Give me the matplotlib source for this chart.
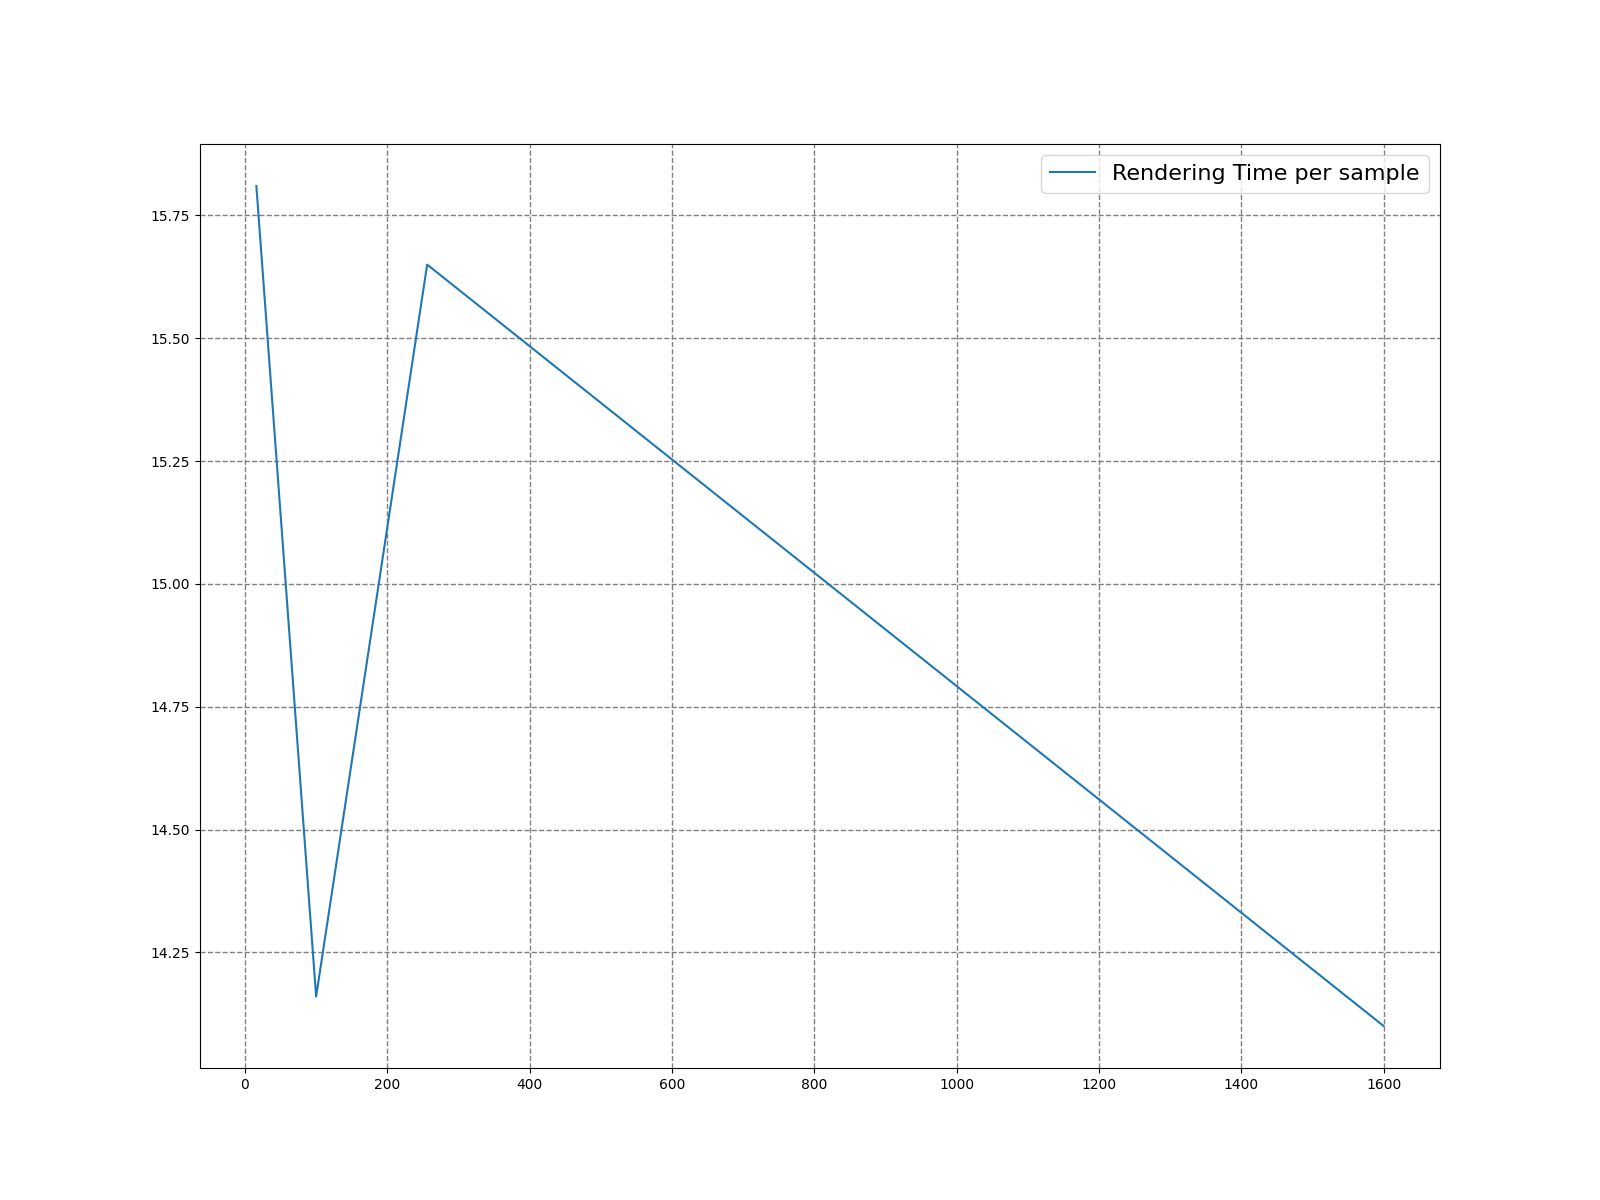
import numpy as np
import matplotlib
matplotlib.use('Agg')
import matplotlib.pyplot as plt

samples = [16, 100, 256, 1600]
render_time = [15.81, 14.16, 15.65, 14.10]

plt.figure(figsize=(16, 12), dpi=100)
plt.plot(samples, render_time, label='Rendering Time per sample')
plt.grid(True, linestyle='--', color='gray', linewidth=1)
plt.legend(fontsize=16)
plt.savefig('out.png')
